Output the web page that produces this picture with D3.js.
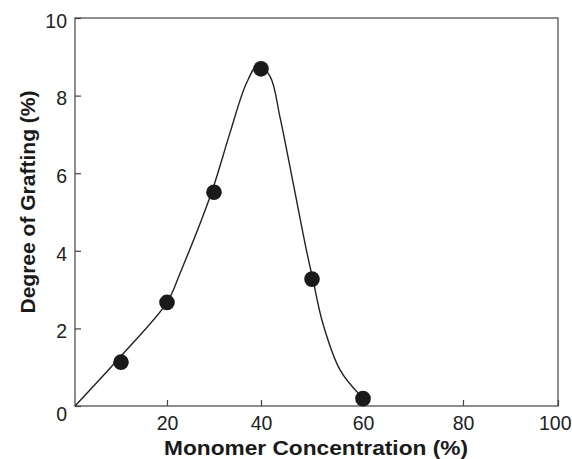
<!DOCTYPE html>
<html>
<head>
<meta charset="utf-8">
<script src="https://cdn.jsdelivr.net/npm/d3@7"></script>
<style>
  body { margin: 0; background: #fff; }
  svg { display: block; font-family: "Liberation Sans", Arial, sans-serif; }
</style>
</head>
<body>
<div id="chart"></div>
<script>
// measured points
var monomer = [10, 20, 30, 40, 50, 60];
var grafting = [1.13, 2.67, 5.51, 8.69, 3.27, 0.19];

// fitted curve
var fitX = [0, 10.4, 20, 22.8, 29.5, 33.4, 36.9, 39.4, 41.8, 43.7, 46.3, 48.9, 50.2, 52.1, 55.5, 59.4];
var fitY = [0, 1.34, 2.67, 3.43, 5.51, 7.04, 8.32, 8.79, 8.49, 7.46, 5.75, 4.02, 3.25, 2.14, 0.93, 0.28];

var xTicks = [20, 40, 60, 80, 100];
var yTicks = [0, 2, 4, 6, 8, 10];

var width = 572, height = 459;
var plotLeft = 75, plotRight = 558, plotTop = 18, plotBottom = 406;

var svg = d3.select("#chart").append("svg")
    .attr("width", width)
    .attr("height", height);

// the scanned x axis is slightly uneven, so use a piecewise scale
var x = d3.scaleLinear()
    .domain([0, 20, 40, 60, 80, 100])
    .range([plotLeft, 167, 261, 363, 463, plotRight]);

var y = d3.scaleLinear()
    .domain([0, 10])
    .range([plotBottom, plotTop]);

// frame
svg.append("rect")
    .attr("x", plotLeft).attr("y", plotTop)
    .attr("width", plotRight - plotLeft).attr("height", plotBottom - plotTop)
    .attr("fill", "none")
    .attr("stroke", "#444")
    .attr("stroke-width", 1.2);

var xAxis = svg.append("g")
    .attr("transform", "translate(0," + plotBottom + ")")
    .call(d3.axisBottom(x).tickValues(xTicks).tickSizeInner(-6).tickSizeOuter(0).tickPadding(10));

var yAxis = svg.append("g")
    .attr("transform", "translate(" + plotLeft + ",0)")
    .call(d3.axisLeft(y).tickValues(yTicks).tickSizeInner(-6).tickSizeOuter(0).tickPadding(8));

[xAxis, yAxis].forEach(function (g) {
  g.select(".domain").remove();
  g.selectAll("line").attr("stroke", "#444").attr("stroke-width", 1.2);
  g.selectAll("text")
    .attr("font-family", "Liberation Sans, Arial, sans-serif")
    .attr("font-size", 19.5)
    .attr("fill", "#222");
});
yAxis.selectAll("text").attr("dy", "0.48em");
yAxis.selectAll(".tick").filter(function (d) { return d === 0; }).select("text").attr("dy", "0.72em");
// keep the last label inside the page
xAxis.selectAll(".tick").filter(function (d) { return d === 100; }).select("text")
    .attr("text-anchor", "end")
    .attr("x", width - plotRight - 1);

// fitted curve
var line = d3.line()
    .x(function (d, i) { return x(fitX[i]); })
    .y(function (d) { return y(d); })
    .curve(d3.curveCatmullRom.alpha(0.5));

svg.append("path")
    .datum(fitY)
    .attr("d", line)
    .attr("fill", "none")
    .attr("stroke", "#222")
    .attr("stroke-width", 1.4);

// data points
svg.selectAll("circle.pt")
    .data(grafting)
    .enter()
    .append("circle")
    .attr("class", "pt")
    .attr("cx", function (d, i) { return x(monomer[i]); })
    .attr("cy", function (d) { return y(d); })
    .attr("r", 7.8)
    .attr("fill", "#1a1a1a");

// axis titles
svg.append("text")
    .attr("x", 316)
    .attr("y", 455)
    .attr("text-anchor", "middle")
    .attr("font-size", 19.5)
    .attr("font-weight", "bold")
    .attr("textLength", 304)
    .attr("lengthAdjust", "spacingAndGlyphs")
    .attr("fill", "#1a1a1a")
    .text("Monomer Concentration (%)");

svg.append("text")
    .attr("transform", "translate(35,202) rotate(-90)")
    .attr("text-anchor", "middle")
    .attr("font-size", 20)
    .attr("font-weight", "bold")
    .attr("textLength", 223)
    .attr("lengthAdjust", "spacingAndGlyphs")
    .attr("fill", "#1a1a1a")
    .text("Degree of Grafting (%)");
</script>
</body>
</html>
